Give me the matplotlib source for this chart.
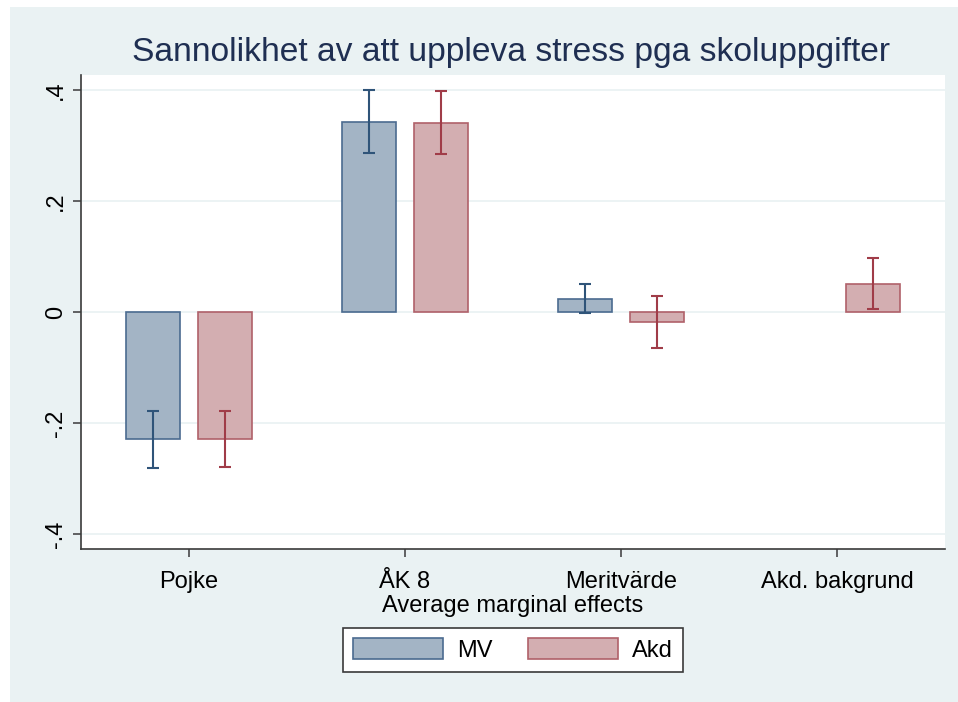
import numpy as np
import matplotlib
matplotlib.use("Agg")
import matplotlib.pyplot as plt
from matplotlib.patches import Rectangle, Patch

# ---- data ----
categories = ["Pojke", "ÅK 8", "Meritvärde", "Akd. bakgrund"]
series_names = ["MV", "Akd"]
mv_values = [-0.229, 0.342, 0.023, np.nan]
mv_ci_low = [-0.281, 0.286, -0.001, np.nan]
mv_ci_high = [-0.179, 0.400, 0.050, np.nan]
akd_values = [-0.228, 0.340, -0.018, 0.050]
akd_ci_low = [-0.280, 0.285, -0.065, 0.005]
akd_ci_high = [-0.178, 0.398, 0.028, 0.097]
y_ticks = [-0.4, -0.2, 0.0, 0.2, 0.4]
y_tick_labels = ["-.4", "-.2", "0", ".2", ".4"]
title = "Sannolikhet av att uppleva stress pga skoluppgifter"
xlabel = "Average marginal effects"

plt.rcParams['font.family'] = ['Liberation Sans', 'DejaVu Sans']

W, H = 958, 702
fig = plt.figure(figsize=(W / 100, H / 100), dpi=100, facecolor="white")
bg = "#EAF2F3"
fig.patches.append(Rectangle((10 / W, 0), 1 - 10 / W, 1 - 7 / H, transform=fig.transFigure,
                             facecolor=bg, edgecolor="none", zorder=-10))

ax = fig.add_axes([81 / W, 1 - 549 / H, (945 - 81) / W, (549 - 75) / H])
ax.set_facecolor("white")

mv_fill, mv_edge, mv_err = "#A3B4C5", "#4B6B90", "#2F5479"
akd_fill, akd_edge, akd_err = "#D3AEB1", "#B0616A", "#A03C48"

x = np.arange(len(categories))
off = 1 / 6
bw = 0.25

def draw(xpos, vals, lo, hi, fill, edge, errc):
    vals = np.array(vals, dtype=float)
    lo = np.array(lo, dtype=float)
    hi = np.array(hi, dtype=float)
    ok = ~np.isnan(vals)
    ax.bar(xpos[ok], vals[ok], width=bw, color=fill, edgecolor=edge, linewidth=1.2, zorder=2)
    mid = (lo + hi) / 2
    ax.errorbar(xpos[ok], mid[ok], yerr=((hi - lo) / 2)[ok], fmt="none", ecolor=errc,
                elinewidth=1.5, capsize=4, capthick=1.5, zorder=3)

draw(x - off, mv_values, mv_ci_low, mv_ci_high, mv_fill, mv_edge, mv_err)
draw(x + off, akd_values, akd_ci_low, akd_ci_high, akd_fill, akd_edge, akd_err)

ax.set_xlim(-0.5, 3.5)
ax.set_ylim(-0.427, 0.427)
ax.set_yticks(y_ticks)
ax.set_yticklabels(y_tick_labels, rotation=90, va="center", fontsize=17)
ax.set_xticks(x)
ax.set_xticklabels(categories, fontsize=17)
ax.grid(axis="y", color=bg, linewidth=1.3, zorder=0)
ax.set_axisbelow(True)
for s in ["top", "right"]:
    ax.spines[s].set_visible(False)
for s in ["left", "bottom"]:
    ax.spines[s].set_color("#3a3a3a")
    ax.spines[s].set_linewidth(1.2)
ax.tick_params(axis="both", colors="#3a3a3a", length=6, width=1.1, labelcolor="black")
ax.tick_params(axis="x", pad=10)
ax.tick_params(axis="y", pad=4)

ax.set_xlabel(xlabel, fontsize=17, labelpad=1)
fig.text(511 / W, 1 - 53 / H, title, ha="center", va="center", fontsize=24.2, color="#1F2F52")

handles = [Patch(facecolor=mv_fill, edgecolor=mv_edge, linewidth=1.2),
           Patch(facecolor=akd_fill, edgecolor=akd_edge, linewidth=1.2)]
leg = fig.legend(handles, series_names, loc="center", bbox_to_anchor=(513 / W, 1 - 650 / H),
                 ncol=2, fontsize=17, handlelength=3.8, handleheight=1.0, handletextpad=0.6,
                 columnspacing=1.5, borderpad=0.45, fancybox=False, framealpha=1,
                 edgecolor="#3a3a3a", borderaxespad=0)
leg.get_frame().set_linewidth(1.2)

fig.savefig("out.png", dpi=100, facecolor=fig.get_facecolor())
